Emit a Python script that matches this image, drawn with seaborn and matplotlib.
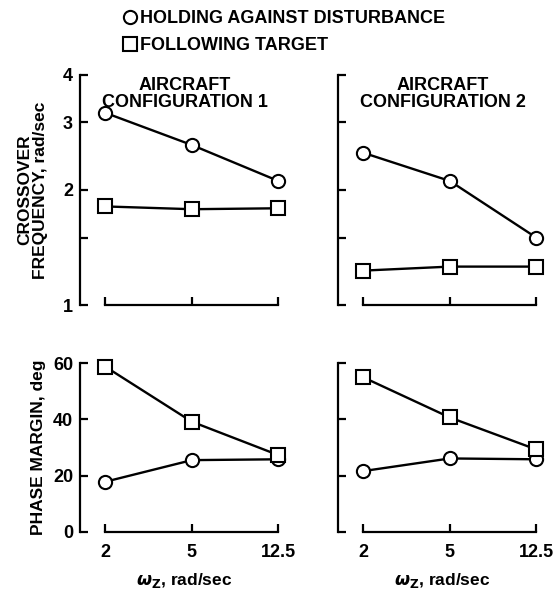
import matplotlib
matplotlib.use("Agg")
import matplotlib.pyplot as plt
from matplotlib.lines import Line2D
from matplotlib.ticker import FixedLocator, FixedFormatter, NullLocator
import seaborn as sns
import pandas as pd

# ---- data ----
omega = [2, 5, 12.5]
omega_labels = ["2", "5", "12.5"]
configs = ["AIRCRAFT\nCONFIGURATION 1", "AIRCRAFT\nCONFIGURATION 2"]

cross_hold_c1 = [3.18, 2.62, 2.11]
cross_follow_c1 = [1.81, 1.78, 1.79]
cross_hold_c2 = [2.50, 2.11, 1.50]
cross_follow_c2 = [1.23, 1.26, 1.26]

pm_hold_c1 = [17.8, 25.5, 25.8]
pm_follow_c1 = [58.8, 39.2, 27.3]
pm_hold_c2 = [21.6, 26.1, 25.8]
pm_follow_c2 = [55.0, 40.7, 29.3]

cross_ticks = [1, 1.5, 2, 3, 4]
cross_ticklabels = ["1", "", "2", "3", "4"]
pm_ticks = [0, 20, 40, 60]
pm_ticklabels = ["0", "20", "40", "60"]

series_names = ["HOLDING AGAINST DISTURBANCE", "FOLLOWING TARGET"]

rows = []
def add(cfg, meas, ser, vals):
    for o, v in zip(omega, vals):
        rows.append(dict(config=cfg, measure=meas, series=ser, omega=o, value=v))

add(1, "cross", series_names[0], cross_hold_c1)
add(1, "cross", series_names[1], cross_follow_c1)
add(2, "cross", series_names[0], cross_hold_c2)
add(2, "cross", series_names[1], cross_follow_c2)
add(1, "pm", series_names[0], pm_hold_c1)
add(1, "pm", series_names[1], pm_follow_c1)
add(2, "pm", series_names[0], pm_hold_c2)
add(2, "pm", series_names[1], pm_follow_c2)
df = pd.DataFrame(rows)

# ---- style ----
sns.set_theme(style="white")
plt.rcParams["font.family"] = ["Liberation Sans", "DejaVu Sans"]
plt.rcParams["font.weight"] = "bold"
plt.rcParams["mathtext.fontset"] = "dejavusans"
plt.rcParams["text.color"] = "black"
plt.rcParams["axes.labelcolor"] = "black"
plt.rcParams["xtick.color"] = "black"
plt.rcParams["ytick.color"] = "black"

fig = plt.figure(figsize=(5.58, 5.96), dpi=100)
W, H = 558, 596

def axes_px(x0, x1, ytop, ybot):
    return fig.add_axes([x0 / W, 1 - ybot / H, (x1 - x0) / W, (ybot - ytop) / H])

xl = (1.53, 14.0)
ax_tl = axes_px(80, 289, 74.7, 305)
ax_tr = axes_px(338, 547, 74.7, 305)
ax_bl = axes_px(80, 289, 363.3, 531.7)
ax_br = axes_px(338, 547, 363.3, 531.7)

markers = {series_names[0]: "o", series_names[1]: "s"}
TICKFS = 13

def draw(ax, cfg, meas):
    sub = df[(df.config == cfg) & (df.measure == meas)]
    sns.lineplot(data=sub, x="omega", y="value", style="series",
                 markers=markers, dashes=False, color="black",
                 linewidth=1.7, markersize=9.5, markerfacecolor="white",
                 markeredgecolor="black", markeredgewidth=1.5,
                 legend=False, ax=ax, clip_on=False, zorder=3)
    ax.set_xscale("log")
    ax.set_xlim(*xl)
    ax.xaxis.set_major_locator(FixedLocator(omega))
    ax.xaxis.set_minor_locator(NullLocator())
    for s in ["top", "right"]:
        ax.spines[s].set_visible(False)
    for s in ["left", "bottom"]:
        ax.spines[s].set_color("black")
        ax.spines[s].set_linewidth(1.6)
    ax.spines["bottom"].set_bounds(omega[0], omega[-1])
    ax.tick_params(which="major", direction="in", length=6, width=1.6,
                   colors="black", labelcolor="black", labelsize=TICKFS,
                   left=True, bottom=True, top=False, right=False)
    ax.tick_params(axis="y", pad=5)
    ax.tick_params(axis="x", pad=9)
    ax.set_xlabel("")
    ax.set_ylabel("")
    ax.grid(False)
    ax.patch.set_alpha(0)

for ax, cfg in [(ax_tl, 1), (ax_tr, 2)]:
    draw(ax, cfg, "cross")
    ax.set_yscale("log")
    ax.set_ylim(1, 4)
    ax.yaxis.set_major_locator(FixedLocator(cross_ticks))
    ax.yaxis.set_minor_locator(NullLocator())
    ax.yaxis.set_major_formatter(FixedFormatter(cross_ticklabels))
    ax.set_xticklabels([])
    ax.text(0.5, 0.99, configs[cfg - 1], transform=ax.transAxes,
            ha="center", va="top", fontsize=13, fontweight="bold",
            linespacing=1.0, color="black")

for ax, cfg in [(ax_bl, 1), (ax_br, 2)]:
    draw(ax, cfg, "pm")
    ax.set_ylim(0, 60)
    ax.yaxis.set_major_locator(FixedLocator(pm_ticks))
    ax.yaxis.set_major_formatter(FixedFormatter(pm_ticklabels))
    ax.set_xticklabels(omega_labels, fontweight="bold")
    ax.set_xlabel(r"$\omega_{\mathbf{Z}}$, rad/sec", fontsize=12.5,
                  fontweight="bold", labelpad=7, color="black")

for ax in [ax_tl, ax_bl]:
    for t in ax.get_yticklabels():
        t.set_fontweight("bold")
for ax in [ax_tr, ax_br]:
    ax.set_yticklabels([])

ax_tl.set_ylabel("CROSSOVER\nFREQUENCY, rad/sec", fontsize=12.5,
                 fontweight="bold", labelpad=11, linespacing=1.05,
                 color="black")
ax_bl.set_ylabel("PHASE MARGIN, deg", fontsize=12.5, fontweight="bold",
                 labelpad=5, color="black")

handles = [Line2D([], [], linestyle="none", marker=markers[s], markersize=9.5,
                  markerfacecolor="white", markeredgecolor="black",
                  markeredgewidth=1.5) for s in series_names]
leg = fig.legend(handles, series_names, loc="upper left",
                 bbox_to_anchor=(116 / W, 1 - 3 / H), frameon=False,
                 prop={"weight": "bold", "size": 13}, handlelength=0.7,
                 handletextpad=0.25, labelspacing=0.55, borderaxespad=0)
for t in leg.get_texts():
    t.set_color("black")

fig.savefig("out.png", dpi=100)
